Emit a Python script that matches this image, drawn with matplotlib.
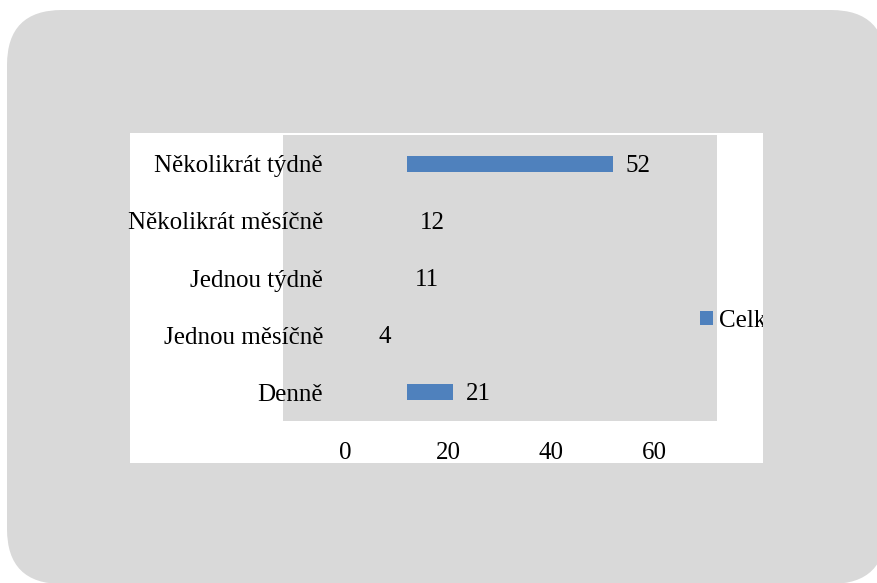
import numpy as np
import matplotlib
matplotlib.use("Agg")
import matplotlib.pyplot as plt
from matplotlib.patches import FancyBboxPatch, Rectangle
from matplotlib.transforms import Bbox

categories = ["Denně", "Jednou měsíčně", "Jednou týdně", "Několikrát měsíčně", "Několikrát týdně"]
values = [21, 4, 11, 12, 52]
series_name = "Celkem"
xticks = [0, 20, 40, 60]

W, H = 877, 583
plt.rcParams['font.family'] = ['Liberation Serif', 'DejaVu Serif']
plt.rcParams['font.size'] = 18

fig = plt.figure(figsize=(W / 100, H / 100), dpi=100, facecolor='white')

# background in pixel coords
bg = fig.add_axes([0, 0, 1, 1], zorder=0)
bg.set_xlim(0, W)
bg.set_ylim(H, 0)
bg.axis('off')
bg.add_patch(FancyBboxPatch((7, 10), 879, 574,
                            boxstyle="round,pad=0,rounding_size=55",
                            facecolor='#d9d9d9', edgecolor='none'))
bg.add_patch(Rectangle((130, 133), 633, 330, facecolor='white', edgecolor='none'))

# plot area: x 283..717, y 135..421 px
ax = fig.add_axes([283 / W, 1 - 421 / H, (717 - 283) / W, (421 - 135) / H], zorder=1)
ax.set_facecolor('#d9d9d9')
y = np.arange(len(categories))
bars = ax.barh(y, values, height=0.28, color='#4f81bd', label=series_name)
ax.set_xlim(-12, 72.2)
ax.set_ylim(-0.5, len(categories) - 0.5)

clip = Rectangle((12, -0.5), 200, 10, transform=ax.transData)
for b in bars:
    b.set_clip_path(clip)

for i, v in enumerate(values):
    ax.annotate(str(v), (v, i), xytext=(9.4, -1.5), textcoords='offset points',
                va='center', ha='left', annotation_clip=False)

ax.set_yticks(y)
ax.set_yticklabels(categories)
ax.set_xticks(xticks)
ax.tick_params(axis='y', length=0, pad=-28.8)
ax.tick_params(axis='x', length=0, pad=15)
for s in ax.spines.values():
    s.set_visible(False)

# legend, text clipped at the chart area edge
leg = fig.legend(handles=[bars], labels=[series_name], frameon=False,
                 loc='center left', bbox_to_anchor=(700 / W, 1 - 321 / H),
                 handlelength=0.52, handleheight=0.52, handletextpad=0.22,
                 borderpad=0, borderaxespad=0)
leg.set_zorder(3)
cb = Bbox.from_extents(130, H - 463, 763, H - 133)
for t in leg.get_texts():
    t.set_clip_box(cb)
    t.set_clip_on(True)

fig.savefig("out.png", dpi=100, facecolor='white')
